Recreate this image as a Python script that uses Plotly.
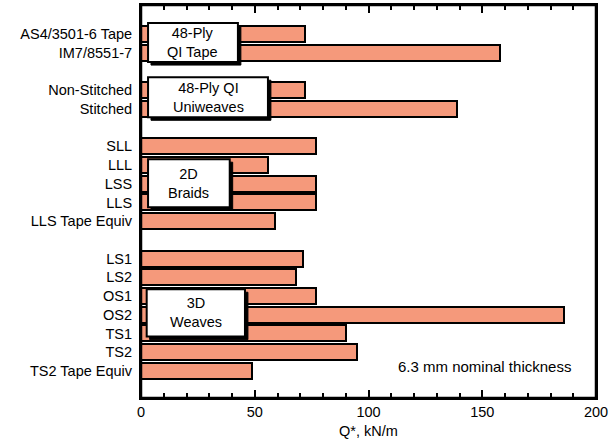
import plotly.graph_objects as go

categories = ["AS4/3501-6 Tape", "IM7/8551-7", "Non-Stitched", "Stitched",
              "SLL", "LLL", "LSS", "LLS", "LLS Tape Equiv",
              "LS1", "LS2", "OS1", "OS2", "TS1", "TS2", "TS2 Tape Equiv"]
slots = [0, 1, 3, 4, 6, 7, 8, 9, 10, 12, 13, 14, 15, 16, 17, 18]
values = [72, 158, 72, 139, 77, 56, 77, 77, 59, 71, 68, 77, 186, 90, 95, 49]

groups = [
    ("48-Ply<br>QI Tape", 3.1, 42.6, -0.59, 1.5),
    ("48-Ply QI<br>Uniweaves", 3.1, 55.8, 2.31, 4.45),
    ("2D<br>Braids", 3.1, 39.0, 6.69, 9.26),
    ("3D<br>Weaves", 2.5, 45.7, 13.64, 16.17),
]

FONT = "Liberation Sans, Arial, sans-serif"
FS = 14.5
fig = go.Figure()
fig.add_trace(go.Bar(
    x=values, y=slots, orientation="h", width=0.85,
    marker=dict(color="#F5997B", line=dict(color="black", width=2)),
    showlegend=False, hoverinfo="x",
))
fig.add_trace(go.Scatter(x=[0, 200], y=[slots[0], slots[-1]], xaxis="x2", yaxis="y",
                         mode="markers", marker=dict(opacity=0), showlegend=False,
                         hoverinfo="skip"))

for text, x0, x1, y0, y1 in groups:
    fig.add_shape(type="rect", x0=x0 + 1.3, x1=x1 + 1.3, y0=y0 + 0.16, y1=y1 + 0.16,
                  fillcolor="black", line=dict(color="black", width=1), layer="above")
    fig.add_shape(type="rect", x0=x0, x1=x1, y0=y0, y1=y1,
                  fillcolor="white", line=dict(color="black", width=2), layer="above")
    fig.add_annotation(x=(x0 + x1) / 2, y=(y0 + y1) / 2, text=text, showarrow=False,
                       font=dict(family=FONT, size=FS, color="black"))

fig.add_shape(type="rect", xref="paper", yref="paper", x0=0, x1=1, y0=0, y1=1,
              line=dict(color="black", width=2.5), fillcolor="rgba(0,0,0,0)", layer="above")

fig.add_annotation(x=151.2, y=17.75, text="6.3 mm nominal thickness", showarrow=False,
                   font=dict(family=FONT, size=15, color="black"))

tick_common = dict(range=[0, 200], tickvals=[0, 50, 100, 150, 200], ticks="inside",
                   ticklen=8, tickwidth=2, tickcolor="black",
                   minor=dict(dtick=10, ticks="inside", ticklen=5, tickwidth=2,
                              tickcolor="black"),
                   showline=True, linecolor="black", linewidth=2,
                   showgrid=False, zeroline=False, automargin=False)

fig.update_layout(
    width=609, height=444,
    margin=dict(l=141, r=13, t=5, b=46, autoexpand=False),
    paper_bgcolor="white", plot_bgcolor="white",
    font=dict(family=FONT, size=FS, color="black"),
    bargap=0,
    xaxis=dict(**tick_common,
               title=dict(text="Q*, kN/m", font=dict(size=FS), standoff=6)),
    xaxis2=dict(**tick_common, overlaying="x", side="top", anchor="y",
                showticklabels=False),
    yaxis=dict(range=[19.45, -1.55], tickvals=slots, ticktext=categories,
               ticks="", showline=True, linecolor="black", linewidth=2, mirror=True,
               showgrid=False, zeroline=False, ticklabelstandoff=4, automargin=False),
)

fig.write_html("out.html", config={"displayModeBar": False},
               post_script="document.body.style.margin='0';")
